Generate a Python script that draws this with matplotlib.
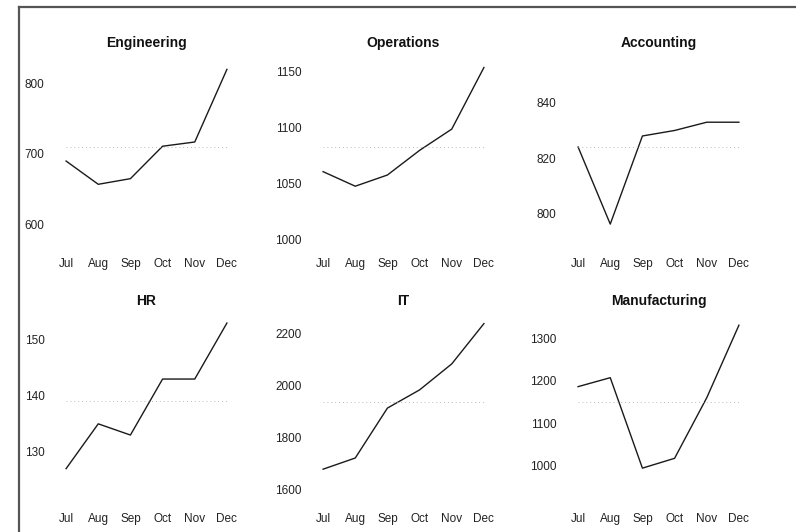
import matplotlib
matplotlib.use("Agg")
import matplotlib.pyplot as plt
from matplotlib.lines import Line2D
import numpy as np

plt.rcParams['font.family'] = ['Liberation Sans', 'DejaVu Sans']

months = ["Jul", "Aug", "Sep", "Oct", "Nov", "Dec"]
departments = ["Engineering", "Operations", "Accounting", "HR", "IT", "Manufacturing"]

engineering = [690, 657, 665, 711, 717, 820]
operations = [1061, 1048, 1058, 1080, 1099, 1154]
accounting = [824, 796, 828, 830, 833, 833]
hr = [127, 135, 133, 143, 143, 153]
it = [1680, 1723, 1915, 1985, 2085, 2240]
manufacturing = [1186, 1207, 995, 1018, 1160, 1330]

series = [engineering, operations, accounting, hr, it, manufacturing]

yticks = [
    [600, 700, 800],
    [1000, 1050, 1100, 1150],
    [800, 820, 840],
    [130, 140, 150],
    [1600, 1800, 2000, 2200],
    [1000, 1100, 1200, 1300],
]
ylims = [
    (570.9, 833.3),
    (995.5, 1160.7),
    (788.4, 855.6),
    (121.4, 153.9),
    (1561.5, 2261.5),
    (920.3, 1346.9),
]

W, H = 796, 532
fig = plt.figure(figsize=(W / 100, H / 100), dpi=100)
fig.patch.set_facecolor("white")

col_left = [50, 307, 562]
col_w = 193
row_top = [60, 318]
row_bot = [245, 500]

for i, (name, vals) in enumerate(zip(departments, series)):
    r, c = divmod(i, 3)
    left = col_left[c] / W
    bottom = 1 - row_bot[r] / H
    height = (row_bot[r] - row_top[r]) / H
    ax = fig.add_axes([left, bottom, col_w / W, height])
    x = np.arange(len(months))
    ax.plot(x, vals, color="#1a1a1a", lw=1.0)
    mean = np.mean(vals)
    ax.plot([x[0], x[-1]], [mean, mean], color="#bbbbbb", lw=0.7, ls=(0, (1, 3)))
    ax.set_xlim(-0.5, 5.5)
    ax.set_ylim(*ylims[i])
    ax.set_xticks(x)
    ax.set_xticklabels(months)
    ax.set_yticks(yticks[i])
    ax.tick_params(axis="both", length=0, labelsize=8.5, colors="#222222")
    ax.tick_params(axis="x", pad=9.5)
    ax.tick_params(axis="y", pad=4)
    for s in ax.spines.values():
        s.set_visible(False)
    ax.set_title(name, fontsize=10, fontweight="bold", pad=9.5, color="#111111")

# frame lines at top and left
fig.add_artist(Line2D([18.5 / W, 1.0], [1 - 6.5 / H, 1 - 6.5 / H],
                      transform=fig.transFigure, color="#555555", lw=1.6))
fig.add_artist(Line2D([18.5 / W, 18.5 / W], [0.0, 1 - 6.5 / H],
                      transform=fig.transFigure, color="#555555", lw=1.6))

fig.savefig("out.png", dpi=100)
